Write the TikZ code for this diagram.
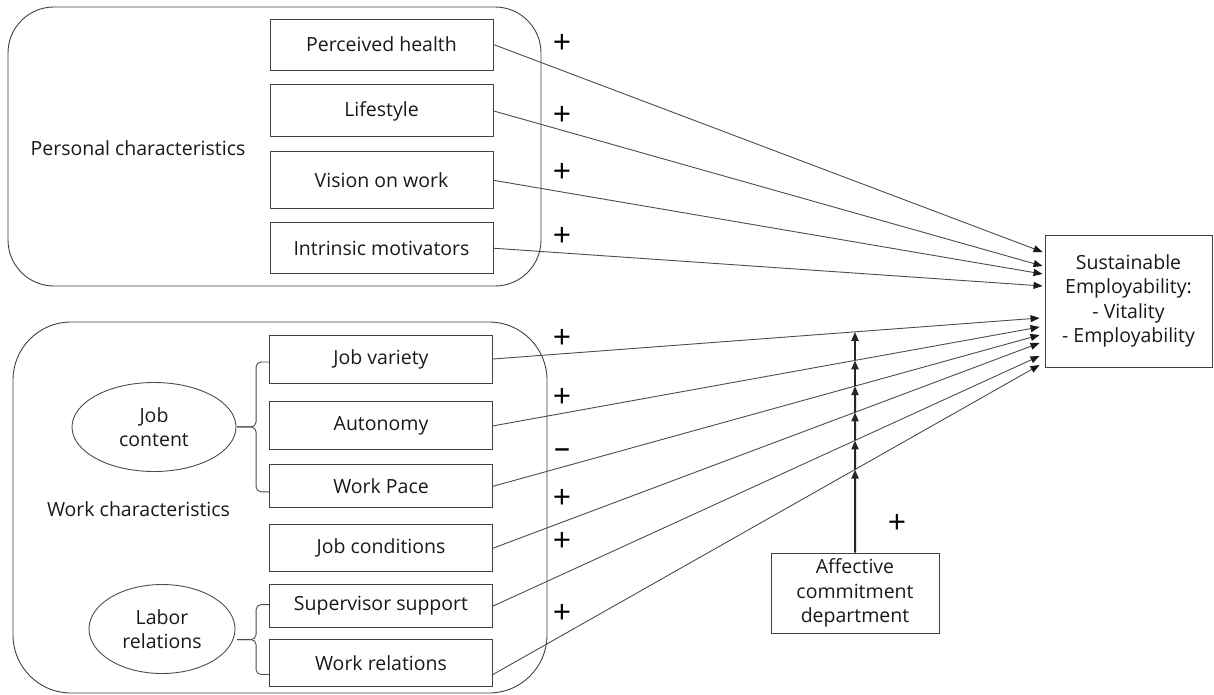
\documentclass[tikz,border=0pt]{standalone}
\usepackage{fontspec}
\setmainfont{Open Sans}
\usetikzlibrary{positioning,arrows.meta,shapes.geometric,calc}

\tikzset{
  item/.style={draw=black!75, line width=0.9pt, minimum width=223pt, inner sep=0pt, text=black!90},
  group/.style={draw=black!75, line width=0.9pt},
  sign/.style={font=\fontsize{32}{32}\selectfont, text=black, inner sep=0pt},
  link/.style={draw=black!70, line width=0.9pt, -{Triangle[length=9pt,width=7pt,color=black!90]}},
  mod/.style={draw=black!85, line width=2pt, -{Triangle[length=9pt,width=7pt]}},
  cloud/.style={ellipse, draw=black!70, line width=0.9pt, inner sep=0pt, align=center, text=black!90},
  bracket/.style={draw=black!70, line width=0.9pt, rounded corners=5pt}
}

\begin{document}
\begin{tikzpicture}[x=1pt, y=-1pt, font=\fontsize{19.5}{24.5}\selectfont]
    \useasboundingbox (0,0) rectangle (1214,695);

    % groups
    \draw[group, rounded corners=46pt] (8,7) rectangle (541,286);
    \draw[group, rounded corners=58pt] (13,322) rectangle (547,693);
    \node[text=black!90] (pc) at (138,148) {Personal characteristics};
    \node[text=black!90] (wc) at (138.5,509) {Work characteristics};

    % personal characteristics
    \node[item, minimum height=51pt] (ph) at (381.5,44.5) {Perceived health};
    \node[item, minimum height=52pt, below=14pt of ph] (ls) {Lifestyle};
    \node[item, minimum height=57pt, below=14pt of ls] (vw) {Vision on work};
    \node[item, minimum height=51pt, below=13pt of vw] (im) {Intrinsic motivators};

    % work characteristics
    \node[item, minimum height=48pt] (jv) at (381,359) {Job variety};
    \node[item, minimum height=48pt, below=18pt of jv] (au) {Autonomy};
    \node[item, minimum height=43pt, below=14pt of au] (wp) {Work Pace};
    \node[item, minimum height=47pt, below=16pt of wp] (jc) {Job conditions};
    \node[item, minimum height=43pt, below=12pt of jc] (ss) {Supervisor support};
    \node[item, minimum height=47pt, below=11pt of ss] (wr) {Work relations};

    \node[cloud, minimum width=164pt, minimum height=89pt] (jct) at (154,427) {Job\\content};
    \node[cloud, minimum width=146pt, minimum height=89pt] (lr) at (162,629) {Labor\\relations};

    % brackets
    \coordinate (b1) at ([yshift=-3pt]jv.west);
    \coordinate (b2) at ([yshift=-5.5pt]wp.west);
    \coordinate (b3) at ([yshift=1.5pt]ss.west);
    \coordinate (b4) at ([yshift=-11.5pt]wr.west);
    \coordinate (bm1) at ($(b1)!0.5!(b2)$);
    \coordinate (bm2) at ($(b3)!0.5!(b4)$);
    \draw[bracket] (b1) -| ([xshift=-13pt]bm1) -- ([xshift=-32pt]bm1);
    \draw[bracket] (b2) -| ([xshift=-13pt]bm1) -- ([xshift=-32pt]bm1);
    \draw[bracket] (b3) -| ([xshift=-13pt]bm2) -- ([xshift=-32pt]bm2);
    \draw[bracket] (b4) -| ([xshift=-13pt]bm2) -- ([xshift=-32pt]bm2);

    % outcome and moderator
    \node[item, minimum width=167pt, minimum height=132pt, align=center] (se) at (1128.5,301)
        {Sustainable\\Employability:\\- Vitality\\- Employability};
    \node[item, minimum width=168pt, minimum height=80pt, align=center] (acd) at (855,593)
        {Affective\\commitment\\department};

    \foreach \n/\dy in {1/-49, 2/-35, 3/-27, 4/-15}
        \coordinate (e\n) at ([shift={(-2,\dy)}]se.west);
    \foreach \n/\dy in {5/17, 6/26, 7/34, 8/42, 9/55, 10/64}
        \coordinate (e\n) at ([shift={(-5,\dy)}]se.west);
    \coordinate (wrs) at ([yshift=-11.5pt]wr.east);

    \draw[link] (ph.east) -- (e1);
    \draw[link] (ls.east) -- (e2);
    \draw[link] (vw.east) -- (e3);
    \draw[link] (im.east) -- (e4);
    \draw[link] (jv.east) -- (e5);
    \draw[link] (au.east) -- (e6);
    \draw[link] (wp.east) -- (e7);
    \draw[link] (jc.east) -- (e8);
    \draw[link] (ss.east) -- (e9);
    \draw[link] (wrs) -- (e10);

    \coordinate (mt) at (acd.north |- se.north);
    \coordinate (m1) at (intersection of jv.east--e5 and acd.north--mt);
    \coordinate (m2) at (intersection of au.east--e6 and acd.north--mt);
    \coordinate (m3) at (intersection of wp.east--e7 and acd.north--mt);
    \coordinate (m4) at (intersection of jc.east--e8 and acd.north--mt);
    \coordinate (m5) at (intersection of ss.east--e9 and acd.north--mt);
    \coordinate (m6) at (intersection of wrs--e10 and acd.north--mt);
    \foreach \a/\b in {acd.north/m6, m6/m5, m5/m4, m4/m3, m3/m2, m2/m1}
        \draw[mod] (\a) -- (\b);

    % signs
    \foreach \y in {44, 116, 173, 237, 339, 398, 499, 542, 614}
        \node[sign] at (562,\y) {+};
    \node[sign] (neg) at (562,454) {–};
    \node[sign] (pos) at (897,524) {+};
\end{tikzpicture}
\end{document}
